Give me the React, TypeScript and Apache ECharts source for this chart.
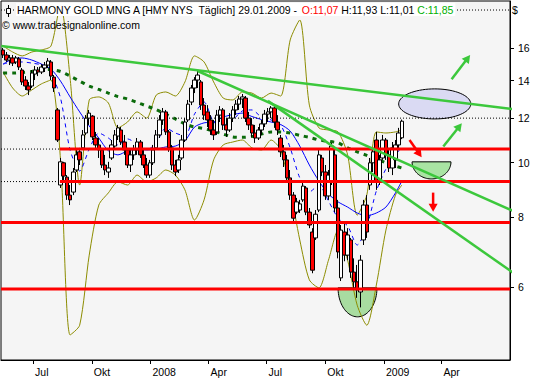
import React, { useEffect, useRef } from 'react';
import * as echarts from 'echarts';

const FONT = '"Liberation Sans", Arial, sans-serif';
const DAY = 86400000;

// ---- time frame -------------------------------------------------------
const START_DATE = '2007-05-15';
const STEP_DAYS = 5;
const X_MIN_DATE = '2007-05-11T17:00:00Z';
const X_MAX_DATE = '2009-07-17T12:00:00Z';
const PRICE_MIN = 4.448;
const PRICE_MAX = 19.405;

// ---- price bars (open / close / low / high) -------------------------
const opens = [
  15.87, 15.55, 15.23, 15.36, 15.11, 15.30, 14.62, 14.03, 13.69, 13.69,
  14.38, 14.62, 14.50, 14.74, 14.92, 15.11, 14.20, 12.41, 9.12, 9.99,
  9.42, 8.75, 8.86, 9.70, 10.45, 10.62, 11.29, 12.00, 12.10, 11.06,
  10.75, 10.53, 9.90, 9.62, 10.19, 10.70, 11.15, 11.43, 10.88, 10.53,
  9.90, 10.32, 10.53, 10.88, 10.32, 9.90, 9.50, 9.99, 10.62, 11.20,
  11.91, 12.31, 11.34, 10.62, 9.90, 9.70, 10.19, 10.97, 11.91, 12.82,
  13.58, 14.03, 13.92, 12.66, 12.31, 11.91, 11.43, 11.34, 12.15, 12.41,
  11.67, 11.43, 12.00, 12.41, 12.71, 12.98, 13.03, 12.00, 11.67, 11.29,
  11.06, 11.43, 11.72, 12.20, 12.31, 12.51, 11.81, 11.06, 10.45, 10.11,
  9.39, 8.75, 8.16, 8.23, 8.58, 9.01, 8.16, 7.52, 7.34, 8.23,
  10.19, 9.62, 8.72, 9.24, 10.32, 8.30, 6.23, 7.52, 6.84, 7.28,
  6.38, 6.13, 5.88, 7.28, 8.40, 9.12, 9.99, 10.97, 9.24, 10.19,
  10.97, 10.32, 9.78, 10.11, 10.75, 11.07,
];
const closes = [
  15.55, 15.23, 15.36, 15.04, 15.36, 14.80, 13.92, 13.69, 13.47, 14.44,
  14.62, 14.50, 14.80, 14.92, 15.17, 14.26, 13.58, 10.97, 10.03, 9.46,
  8.75, 8.58, 9.62, 10.32, 10.11, 11.20, 12.00, 12.25, 11.11, 10.75,
  10.53, 9.90, 9.70, 9.78, 10.75, 11.20, 11.53, 10.88, 10.53, 9.90,
  10.32, 10.53, 10.88, 10.32, 9.90, 9.50, 9.99, 10.53, 11.20, 11.91,
  12.31, 11.34, 10.62, 9.90, 9.62, 10.11, 10.97, 11.81, 12.71, 13.58,
  14.03, 14.32, 12.66, 12.15, 11.91, 11.43, 11.20, 12.15, 12.41, 11.67,
  11.43, 12.00, 12.41, 12.71, 12.98, 13.09, 12.00, 11.67, 11.29, 11.06,
  11.43, 11.72, 12.20, 12.31, 12.51, 11.81, 11.43, 10.45, 10.11, 9.39,
  8.75, 7.96, 8.51, 8.44, 9.08, 8.16, 7.74, 6.43, 8.09, 10.32,
  9.62, 8.72, 9.50, 10.70, 8.30, 6.93, 7.58, 6.84, 7.43, 6.38,
  6.13, 5.93, 6.70, 8.40, 7.52, 9.99, 10.45, 9.24, 10.11, 10.97,
  10.32, 9.78, 10.62, 10.75, 11.29, 11.85,
];
const lows = [
  15.36, 15.11, 14.92, 14.86, 14.98, 14.62, 13.75, 13.47, 13.19, 13.58,
  14.03, 14.26, 14.38, 14.50, 14.74, 14.03, 13.36, 10.88, 9.01, 9.31,
  8.58, 8.40, 8.75, 9.62, 9.90, 10.53, 11.20, 11.67, 10.97, 10.53,
  10.19, 9.78, 9.50, 9.39, 10.11, 10.62, 10.97, 10.75, 10.32, 9.78,
  9.62, 10.11, 10.32, 10.19, 9.78, 9.39, 9.39, 9.90, 10.53, 11.06,
  11.67, 11.20, 10.45, 9.70, 9.46, 9.58, 10.11, 10.88, 11.81, 12.66,
  13.30, 13.58, 12.41, 11.91, 11.57, 11.20, 10.97, 11.20, 11.81, 11.43,
  11.11, 11.34, 11.81, 12.15, 12.41, 12.51, 11.81, 11.43, 11.11, 10.84,
  10.97, 11.20, 11.57, 11.81, 12.00, 11.53, 11.20, 10.23, 9.82, 9.24,
  8.58, 7.84, 8.09, 8.13, 8.51, 8.06, 7.64, 6.35, 7.28, 8.16,
  9.46, 8.58, 8.58, 9.12, 8.16, 6.75, 6.15, 6.67, 6.70, 6.23,
  5.93, 5.74, 5.52, 7.13, 7.34, 8.94, 9.62, 8.94, 9.12, 10.11,
  10.11, 9.62, 9.50, 9.78, 10.53, 11.01,
];
const highs = [
  16.00, 15.74, 15.55, 15.55, 15.49, 15.42, 14.74, 14.26, 13.92, 14.62,
  14.86, 14.80, 14.98, 15.11, 15.36, 15.23, 14.32, 12.51, 10.19, 10.03,
  9.50, 9.12, 9.78, 10.53, 10.62, 11.43, 12.15, 12.41, 12.15, 11.34,
  11.06, 10.62, 10.32, 10.03, 10.97, 11.43, 11.67, 11.57, 11.20, 10.62,
  10.53, 10.75, 11.06, 10.97, 10.53, 10.19, 10.11, 10.75, 11.43, 12.15,
  12.51, 12.41, 11.43, 10.75, 10.11, 10.32, 11.20, 12.00, 12.93, 13.75,
  14.20, 14.56, 14.03, 13.03, 12.66, 12.15, 11.91, 12.41, 12.61, 12.51,
  12.00, 12.25, 12.61, 12.93, 13.14, 13.25, 13.14, 12.31, 12.00, 11.67,
  11.57, 11.91, 12.41, 12.51, 12.61, 12.66, 12.15, 11.20, 10.75, 10.32,
  9.70, 8.86, 8.65, 8.58, 9.20, 9.08, 8.30, 7.64, 8.23, 10.53,
  10.32, 9.90, 9.70, 10.84, 10.53, 8.58, 7.74, 7.84, 7.64, 7.34,
  6.75, 6.57, 6.84, 8.58, 8.75, 10.19, 10.62, 11.34, 10.32, 11.20,
  11.06, 10.62, 10.88, 10.97, 11.53, 11.93,
];

// ---- indicators, read at every 3rd bar plus the last bar -------------
const maLong = [
  14.44, 14.44, 14.47, 14.53, 14.65, 14.65, 14.53, 14.26, 13.97, 13.69,
  13.50, 13.30, 13.11, 12.98, 12.80, 12.61, 12.43, 12.20, 11.96, 11.72,
  11.57, 11.50, 11.38, 11.24, 11.11, 11.09, 11.13, 11.24, 11.34, 11.34,
  11.29, 11.18, 11.09, 10.97, 10.91, 10.84, 10.62, 10.45, 10.30, 10.15,
  9.99, 9.86, 9.78,
];
const maMid = [
  14.98, 15.30, 15.36, 15.23, 14.98, 14.68, 13.97, 13.09, 12.31, 11.62,
  11.06, 10.49, 10.32, 10.49, 10.57, 10.53, 10.57, 10.66, 10.70, 10.93,
  11.57, 11.77, 11.81, 12.05, 12.18, 12.25, 12.08, 11.93, 11.81, 11.69,
  11.38, 10.70, 9.90, 9.27, 8.79, 8.51, 8.33, 8.13, 8.04, 8.13,
  8.33, 8.83, 9.27,
];
const maShort = [
  14.98, 15.11, 15.11, 15.04, 14.92, 14.44, 13.03, 10.53, 9.66, 10.57,
  11.29, 11.06, 10.75, 11.02, 10.79, 10.53, 10.84, 11.53, 11.29, 11.15,
  12.20, 12.82, 11.81, 11.67, 11.91, 12.36, 12.41, 12.05, 11.91, 11.67,
  10.62, 9.39, 8.86, 9.12, 8.54, 7.96, 7.71, 7.13, 7.68, 8.90,
  9.74, 10.32, 10.66,
];
const bandUpper = [
  16.13, 15.74, 15.49, 15.74, 15.87, 16.13, 19.09, 14.15, 9.12, 12.93,
  13.09, 12.77, 11.53, 11.81, 12.31, 12.00, 13.19, 13.36, 13.14, 13.92,
  15.49, 15.11, 13.92, 13.03, 12.93, 13.36, 13.30, 13.03, 13.30, 13.14,
  16.54, 17.95, 12.66, 11.53, 11.43, 11.34, 10.32, 8.06, 8.75, 11.34,
  11.29, 11.34, 11.43,
];
const bandLower = [
  14.50, 13.58, 13.14, 13.47, 13.81, 14.03, 10.11, 4.93, 5.13, 6.84,
  8.40, 8.83, 9.24, 9.12, 9.50, 9.24, 9.39, 9.70, 9.50, 8.94,
  7.90, 8.58, 10.11, 10.75, 10.88, 10.97, 10.62, 10.53, 10.97, 10.53,
  8.94, 7.28, 6.18, 5.98, 6.70, 7.58, 6.70, 5.57, 5.13, 6.05,
  7.58, 8.75, 9.12,
];

// ---- drawn levels and trend lines ----------------------------------
const dottedLevels = [18.7, 12.0, 10.57, 9.25];
const redLevelsFromStart = [7.82, 5.95];
const redLevelsLater = [10.57, 9.25];
const RED_LATER_START = '2007-08-12';
const trendLines: [string, number, string, number][] = [
  ['2007-05-12', 16.13, '2009-08-02', 12.41],
  ['2008-03-15', 14.56, '2009-08-02', 8.10],
  ['2008-07-03', 12.88, '2009-08-02', 6.24],
];

// ---- annotations (date1, date2, price1, price2) ---------------------
const ellipseBox: [string, string, number, number] = ['2009-01-24', '2009-05-17', 13.53, 11.96];
const bowlBox: [string, string, number, number] = ['2009-02-14', '2009-04-16', 10.03, 9.35];
const lowBowlBox: [string, string, number, number] = ['2008-10-21', '2008-12-21', 5.98, 5.31];
const greenArrows: [string, number, string, number][] = [
  ['2009-04-17', 14.07, '2009-05-16', 15.55],
  ['2009-04-04', 10.68, '2009-05-03', 11.75],
];
const redArrows: [string, number, string, number][] = [
  ['2009-02-10', 10.97, '2009-03-01', 10.22],
  ['2009-03-19', 8.84, '2009-03-19', 8.17],
];

// ---- axes -------------------------------------------------------------
const Y_TICKS = [6, 8, 10, 12, 14, 16];
const X_TICKS = ['2007-07-01', '2007-10-01', '2008-01-01', '2008-04-01', '2008-07-01', '2008-10-01', '2009-01-01', '2009-04-01'];
const MONTHS = ['Jan', 'Feb', 'Mär', 'Apr', 'Mai', 'Jun', 'Jul', 'Aug', 'Sep', 'Okt', 'Nov', 'Dez'];

const toTs = (s: string) => Date.parse(s.length === 10 ? s + 'T00:00:00Z' : s);
const L = Math.log;
const fmt = (v: number) => v.toFixed(2).replace('.', ',');

function buildOption() {
  const startTs = toTs(START_DATE);
  const barDates = opens.map((_, i) => startTs + i * STEP_DAYS * DAY);
  const lineIdx: number[] = [];
  for (let j = 0; j < opens.length - 1; j += 3) lineIdx.push(j);
  lineIdx.push(opens.length - 1);
  const xMax = toTs(X_MAX_DATE);

  const candles = opens.map((o, i) => [barDates[i], L(o), L(closes[i]), L(lows[i]), L(highs[i])]);

  const indicator = (vals: number[], lineStyle: any, smooth = 0.25) => ({
    type: 'line',
    data: lineIdx.map((j, k) => [barDates[j], L(vals[k])]),
    symbol: 'none',
    smooth,
    lineStyle,
    silent: true,
    z: 2,
  });
  const level = (v: number, start: number, lineStyle: any, z: number) => ({
    type: 'line',
    data: [[start, L(v)], [xMax, L(v)]],
    symbol: 'none',
    lineStyle,
    silent: true,
    z,
  });

  const shapeData = [
    [toTs(ellipseBox[0]), L(ellipseBox[2]), toTs(ellipseBox[1]), L(ellipseBox[3]), 0],
    [toTs(bowlBox[0]), L(bowlBox[2]), toTs(bowlBox[1]), L(bowlBox[3]), 1],
    [toTs(lowBowlBox[0]), L(lowBowlBox[2]), toTs(lowBowlBox[1]), L(lowBowlBox[3]), 2],
  ];
  const shapeFill = ['#dadaf3', '#a9e4a3', '#a8dca0'];

  const arrowSeries = (items: [string, number, string, number][], color: string) => ({
    type: 'custom',
    z: 6,
    silent: true,
    encode: { x: [0, 2], y: [1, 3] },
    data: items.map((a) => [toTs(a[0]), L(a[1]), toTs(a[2]), L(a[3])]),
    renderItem: (_p: any, api: any) => {
      const a = api.coord([api.value(0), api.value(1)]);
      const b = api.coord([api.value(2), api.value(3)]);
      const dx = b[0] - a[0];
      const dy = b[1] - a[1];
      const len = Math.hypot(dx, dy) || 1;
      const ux = dx / len;
      const uy = dy / len;
      const hl = 8;
      const hw = 4.5;
      const bx = b[0] - ux * hl;
      const by = b[1] - uy * hl;
      return {
        type: 'group',
        children: [
          { type: 'line', shape: { x1: a[0], y1: a[1], x2: bx + ux, y2: by + uy }, style: { stroke: color, lineWidth: 2.5 } },
          {
            type: 'polygon',
            shape: { points: [[b[0], b[1]], [bx - uy * hw, by + ux * hw], [bx + uy * hw, by - ux * hw]] },
            style: { fill: color },
          },
        ],
      };
    },
  });

  const series: any[] = [
    {
      type: 'custom',
      z: 1,
      silent: true,
      encode: { x: [0, 2], y: [1, 3] },
      data: shapeData,
      renderItem: (_p: any, api: any) => {
        const a = api.coord([api.value(0), api.value(1)]);
        const b = api.coord([api.value(2), api.value(3)]);
        const kind = api.value(4);
        const cx = (a[0] + b[0]) / 2;
        const rx = Math.abs(b[0] - a[0]) / 2;
        const pts: number[][] = [];
        if (kind === 0) {
          const cy = (a[1] + b[1]) / 2;
          const ry = Math.abs(b[1] - a[1]) / 2;
          for (let k = 0; k <= 72; k++) {
            const t = (k / 72) * Math.PI * 2;
            pts.push([cx + rx * Math.cos(t), cy + ry * Math.sin(t)]);
          }
        } else {
          const ry = b[1] - a[1];
          for (let k = 0; k <= 48; k++) {
            const t = (k / 48) * Math.PI;
            pts.push([cx + rx * Math.cos(t), a[1] + ry * Math.sin(t)]);
          }
        }
        return {
          type: 'polygon',
          shape: { points: pts },
          style: { fill: shapeFill[kind], stroke: '#000', lineWidth: 1 },
        };
      },
    },
    indicator(bandUpper, { color: '#8c8c00', width: 1 }),
    indicator(bandLower, { color: '#8c8c00', width: 1 }),
    indicator(maMid, { color: '#0000ff', width: 1 }),
    indicator(maShort, { color: '#0000ff', width: 1, type: [4, 4] }),
    indicator(maLong, { color: '#0b6b0b', width: 3, type: [4, 5] }, 0.2),
    ...dottedLevels.map((v) => level(v, toTs(X_MIN_DATE), { color: '#000', width: 1, type: [1, 2] }, 2)),
    {
      type: 'candlestick',
      data: candles,
      encode: { x: 0, y: [1, 2, 3, 4] },
      barWidth: 4,
      silent: true,
      z: 3,
      itemStyle: {
        color: '#ffffff',
        color0: '#ff0000',
        borderColor: '#000000',
        borderColor0: '#000000',
        borderWidth: 1,
      },
    },
    ...redLevelsFromStart.map((v) => level(v, toTs(X_MIN_DATE), { color: '#ff0000', width: 3 }, 4)),
    ...redLevelsLater.map((v) => level(v, toTs(RED_LATER_START), { color: '#ff0000', width: 3 }, 4)),
    ...trendLines.map((t) => ({
      type: 'line',
      data: [[toTs(t[0]), L(t[1])], [toTs(t[2]), L(t[3])]],
      symbol: 'none',
      lineStyle: { color: '#3cc83c', width: 2.5 },
      silent: true,
      z: 5,
    })),
    arrowSeries(greenArrows, '#3cc83c'),
    arrowSeries(redArrows, '#ff0000'),
  ];

  const last = opens.length - 1;
  const header =
    '{k|HARMONY GOLD MNG A [HMY NYS  Täglich] 29.01.2009 - }' +
    `{r|O:${fmt(opens[last])}}{k| H:${fmt(highs[last])} L:${fmt(lows[last])} }{g|C:${fmt(closes[last])}}`;

  return {
    animation: false,
    backgroundColor: '#ffffff',
    grid: {
      left: 1,
      right: 23,
      top: 1,
      bottom: 20,
      show: true,
      backgroundColor: '#f5f5f5',
      borderColor: '#000',
      borderWidth: 1,
    },
    title: [
      {
        text: header,
        left: 16,
        top: 3,
        padding: [1, 2, 1, 1],
        backgroundColor: '#ffffff',
        z: 20,
        textStyle: {
          fontFamily: FONT,
          fontSize: 10.5,
          fontWeight: 'normal',
          rich: {
            k: { color: '#000', fontFamily: FONT, fontSize: 10.5 },
            r: { color: '#ff0000', fontFamily: FONT, fontSize: 10.5 },
            g: { color: '#00b000', fontFamily: FONT, fontSize: 10.5 },
          },
        },
      },
      {
        text: '© www.tradesignalonline.com',
        left: 2,
        top: 19,
        padding: 0,
        z: 20,
        textStyle: { fontFamily: FONT, fontSize: 10.5, fontWeight: 'normal', color: '#000' },
      },
      {
        text: '$',
        left: 512,
        top: 4,
        padding: 0,
        z: 20,
        textStyle: { fontFamily: FONT, fontSize: 10.5, fontWeight: 'normal', color: '#000' },
      },
    ],
    graphic: [
      { type: 'line', z: 30, shape: { x1: 8.5, y1: 5, x2: 8.5, y2: 17 }, style: { stroke: '#000', lineWidth: 1 } },
      { type: 'rect', z: 31, shape: { x: 6.5, y: 8.5, width: 4, height: 5 }, style: { fill: '#fff', stroke: '#000', lineWidth: 1 } },
    ],
    xAxis: {
      type: 'value',
      min: toTs(X_MIN_DATE),
      max: xMax,
      position: 'bottom',
      splitLine: { show: false },
      axisLine: { show: true, lineStyle: { color: '#000', width: 1 } },
      axisTick: { show: true, length: 4, customValues: X_TICKS.map(toTs), lineStyle: { color: '#000' } },
      axisLabel: {
        customValues: X_TICKS.map(toTs),
        margin: 6,
        align: 'left',
        verticalAlign: 'top',
        color: '#000',
        fontFamily: FONT,
        fontSize: 10.5,
        formatter: (v: number) => {
          const d = new Date(v);
          const m = d.getUTCMonth();
          const s = m === 0 ? String(d.getUTCFullYear()) : MONTHS[m];
          return `{a|${s}}`;
        },
        rich: { a: { padding: [0, 0, 0, 2], fontFamily: FONT, fontSize: 10.5, color: '#000' } },
      },
    },
    yAxis: {
      type: 'value',
      position: 'right',
      min: L(PRICE_MIN),
      max: L(PRICE_MAX),
      splitLine: { show: false },
      axisLine: { show: true, lineStyle: { color: '#000', width: 1 } },
      axisTick: { show: true, length: 4, customValues: Y_TICKS.map(L), lineStyle: { color: '#000' } },
      axisLabel: {
        customValues: Y_TICKS.map(L),
        margin: 8,
        color: '#000',
        fontFamily: FONT,
        fontSize: 10.5,
        formatter: (v: number) => String(Math.round(Math.exp(v))),
      },
    },
    series,
  };
}

export default function App() {
  const ref = useRef<HTMLDivElement>(null);
  useEffect(() => {
    document.body.style.margin = '0';
    const chart = echarts.init(ref.current as HTMLDivElement, null, { renderer: 'svg' });
    chart.setOption(buildOption() as any);
    return () => chart.dispose();
  }, []);
  return <div ref={ref} style={{ width: 533, height: 380 }} />;
}
